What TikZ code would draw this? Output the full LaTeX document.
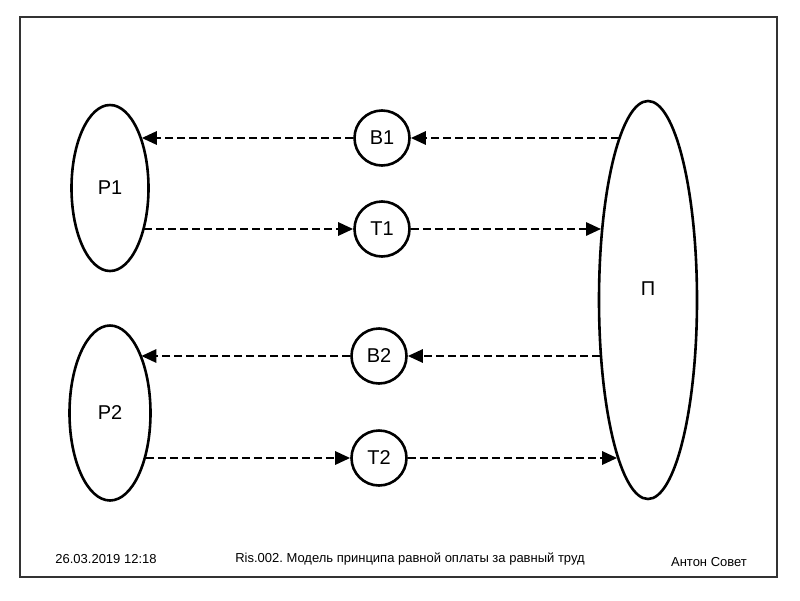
\documentclass[tikz,border=0pt]{standalone}
\usepackage{fontspec}
\setmainfont{Liberation Sans}
\usetikzlibrary{arrows.meta,shapes.geometric}
\frenchspacing

\begin{document}
\begin{tikzpicture}[x=1pt,y=-1pt,
    party/.style={draw,ellipse,line width=2.6pt,inner sep=0pt,
      font=\fontsize{20}{22}\selectfont},
    flow/.style={draw,circle,line width=2.6pt,minimum size=55pt,inner sep=0pt,
      font=\fontsize{20}{22}\selectfont},
    arr/.style={-{Triangle[length=15pt,width=13pt]},line width=2.8pt,
      dash pattern=on 8pt off 4pt},
    foot/.style={font=\fontsize{13}{15}\selectfont}
  ]
    \useasboundingbox (0,0) rectangle (800,600);
    \draw[line width=2pt,black!80] (20,17) rectangle (777,577);

    % participants
    \node[party,minimum width=77pt,minimum height=166pt] (p1) at (110,188) {Р1};
    \node[party,minimum width=81pt,minimum height=175pt] (p2) at (110,413) {Р2};
    \node[party,minimum width=98pt,minimum height=398pt,text height=14pt,
      text depth=24pt] (pi) at (648,300) {П};

    % exchanges
    \node[flow] (b1) at (382,138) {В1};
    \node[flow] (t1) at (382,229) {Т1};
    \node[flow] (b2) at (379,356) {В2};
    \node[flow] (t2) at (379,458) {Т2};

    \draw[arr] (pi.100 |- b1) -- (b1.east);
    \draw[arr] (b1.west) -- (p1.58 |- b1);
    \draw[arr] (p1.309 |- t1) -- (t1.west);
    \draw[arr] (t1.east) -- (pi.123 |- t1);
    \draw[arr] (pi.230 |- b2) -- (b2.east);
    \draw[arr] (b2.west) -- (p2.62 |- b2);
    \draw[arr] (p2.308 |- t2) -- (t2.west);
    \draw[arr] (t2.east) -- (pi.259 |- t2);

    % footer
    \node[foot] (date) at (106,559) {26.03.2019 12:18};
    \node[foot] (title) at (410,559) {Ris.002. Модель принципа равной оплаты за равный труд};
    \node[foot] (author) at (709,562) {Антон Совет};
  \end{tikzpicture}
\end{document}
